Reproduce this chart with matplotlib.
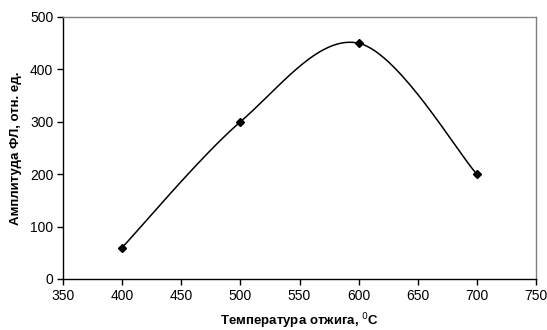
import numpy as np
import matplotlib
matplotlib.use("Agg")
import matplotlib.pyplot as plt

plt.rcParams["font.family"] = ["Liberation Sans", "DejaVu Sans"]

# data
temperature = [400, 500, 600, 700]
amplitude = [60, 300, 450, 200]


def excel_smooth(x, y, n=60):
    # Bezier smoothing like the spreadsheet "smoothed line" option
    x = np.asarray(x, float)
    y = np.asarray(y, float)
    px = np.concatenate([[x[0]], x, [x[-1]]])
    py = np.concatenate([[y[0]], y, [y[-1]]])
    t = np.linspace(0, 1, n)[:, None]
    xs, ys = [], []
    for i in range(1, len(x)):
        p0 = np.array([px[i], py[i]])
        p3 = np.array([px[i + 1], py[i + 1]])
        c1 = p0 + (np.array([px[i + 1], py[i + 1]]) - np.array([px[i - 1], py[i - 1]])) / 6
        c2 = p3 - (np.array([px[i + 2], py[i + 2]]) - np.array([px[i], py[i]])) / 6
        b = ((1 - t) ** 3) * p0 + 3 * ((1 - t) ** 2) * t * c1 + 3 * (1 - t) * t ** 2 * c2 + t ** 3 * p3
        xs.append(b[:, 0])
        ys.append(b[:, 1])
    return np.concatenate(xs), np.concatenate(ys)


fig = plt.figure(figsize=(5.47, 3.30), dpi=100)
ax = fig.add_axes([63 / 547, 1 - 279 / 330, (536 - 63) / 547, (279 - 17) / 330])

sx, sy = excel_smooth(temperature, amplitude)
ax.plot(sx, sy, color="black", lw=1.1)
ax.plot(temperature, amplitude, ls="none", marker="D", ms=4, color="black")

ax.set_xlim(350, 750)
ax.set_ylim(0, 500)
ax.set_xticks(range(350, 751, 50))
ax.set_yticks(range(0, 501, 100))
ax.tick_params(direction="out", length=4, width=1, labelsize=10, colors="black", pad=3)

for side in ["top", "right"]:
    ax.spines[side].set_color("#808080")
    ax.spines[side].set_linewidth(1)
for side in ["left", "bottom"]:
    ax.spines[side].set_color("black")
    ax.spines[side].set_linewidth(1)

ax.set_xlabel("Температура отжига, $^{0}$C", fontsize=9.5, fontweight="bold", labelpad=6)
ax.set_ylabel("Амплитуда ФЛ, отн. ед.", fontsize=9.5, fontweight="bold", labelpad=6)

fig.savefig("out.png", dpi=100)
